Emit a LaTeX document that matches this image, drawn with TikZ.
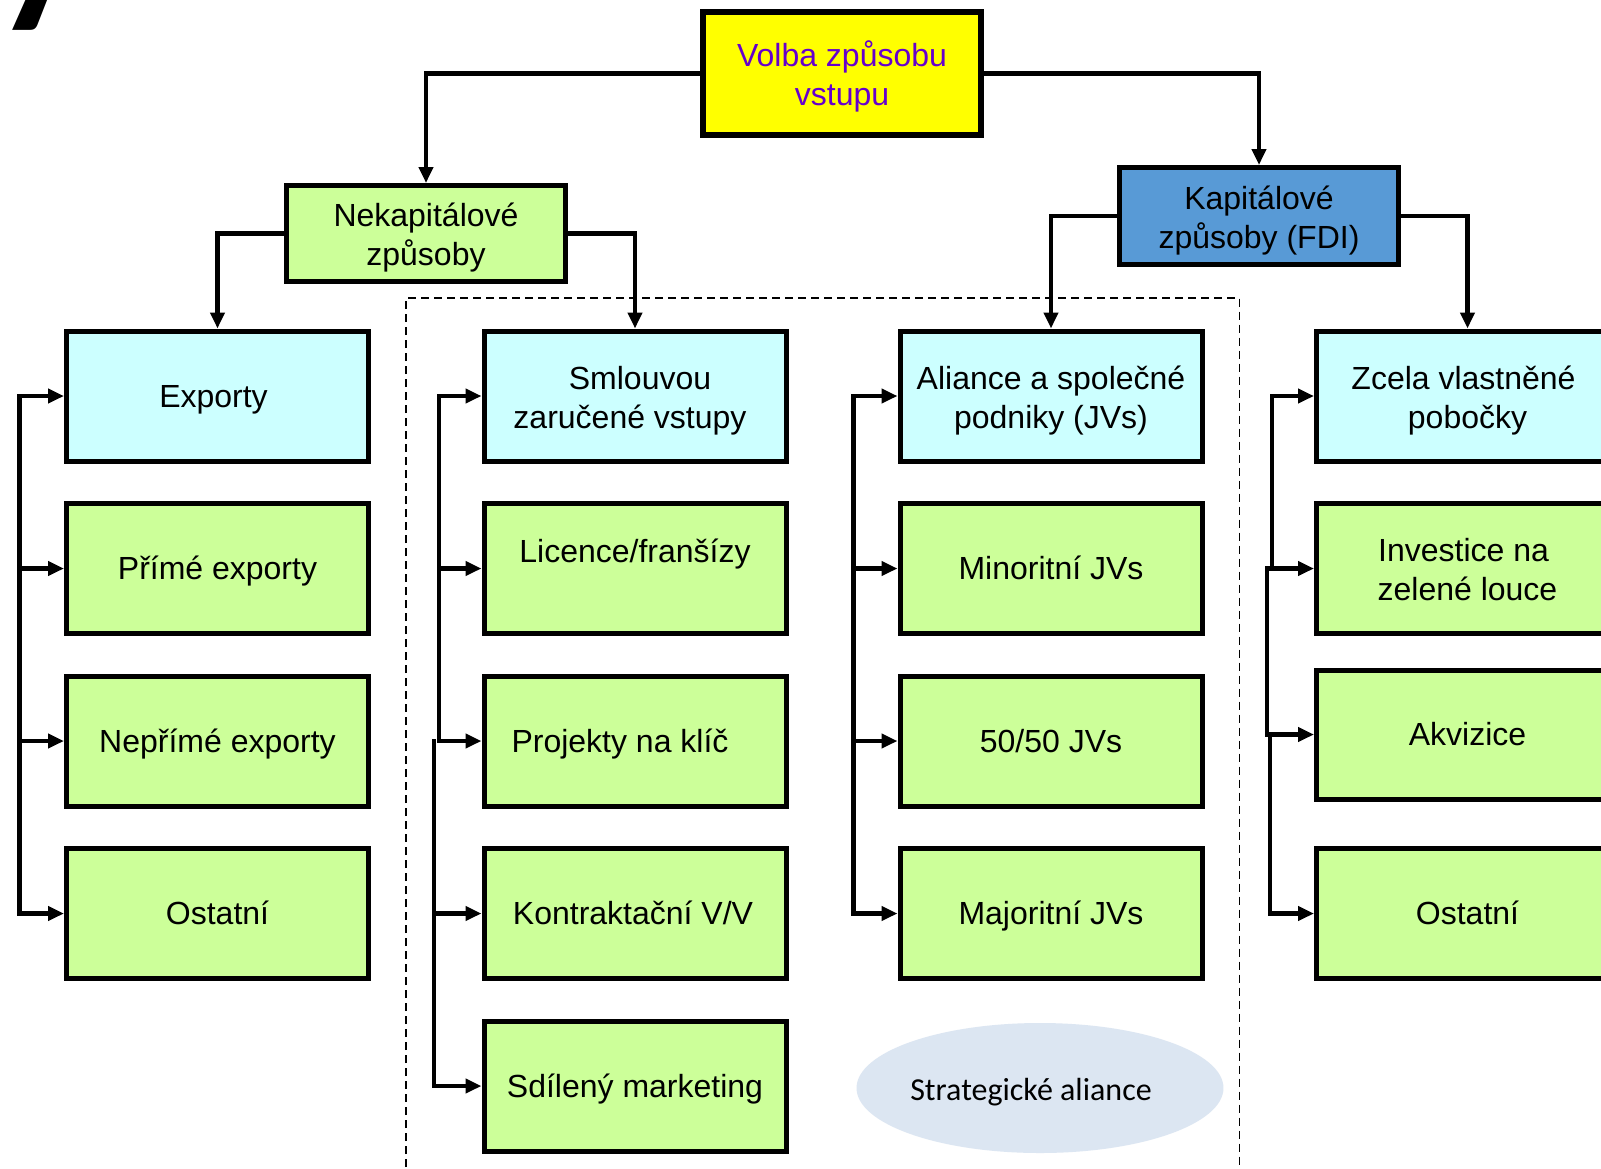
\documentclass[tikz,border=0pt]{standalone}
\usepackage{fontspec}
\usetikzlibrary{arrows.meta,shapes.geometric}
\newfontfamily\arialfont{Liberation Sans}
\newfontfamily\calfont{Carlito}
\definecolor{topyellow}{RGB}{255,255,0}
\definecolor{toptext}{RGB}{102,0,204}
\definecolor{leafgreen}{RGB}{204,255,153}
\definecolor{headcyan}{RGB}{204,255,255}
\definecolor{fdiblue}{RGB}{88,154,214}
\definecolor{ovalblue}{RGB}{220,230,242}
% line strut with the ascent and descent of the box font
\newcommand\lnstrut{\rule[-0.212em]{0pt}{1.117em}}
% two stacked lines, set slightly lower in the box by extra leading above them
\newcommand\twolines[2]{\rule[-0.212em]{0pt}{\dimexpr1.117em+3pt\relax}#1\\#2\lnstrut}
\tikzset{
  box/.style={draw=black, line width=5pt, align=center, inner sep=0pt,
    font=\arialfont\fontsize{32}{39}\selectfont},
  onel/.style={execute at begin node=\lnstrut, execute at end node=\lnstrut},
  leaf/.style={box, fill=leafgreen, minimum width=302pt, minimum height=130pt},
  head/.style={box, fill=headcyan, minimum width=302pt, minimum height=130pt},
  wire/.style={line width=4.5pt, line cap=rect},
  arr/.style={line width=4.5pt, -{Triangle[length=16pt,width=14pt]}},
  zone/.style={line width=1.5pt, dash pattern=on 8pt off 5pt}
}
\begin{document}
\begin{tikzpicture}[x=1pt,y=-1pt]
\useasboundingbox (0,0) rectangle (1601,1168);
\clip (0,0) rectangle (1601,1168);
\fill[white] (0,0) rectangle (1601,1168);

% remnant of the heading above the chart
\node[anchor=base west, inner sep=0pt, font=\calfont\bfseries\fontsize{190}{190}\selectfont] (heading) at (-6,0) {y};

% dashed frame around the contractual and alliance columns
\draw[zone] (406,1180) |- (1239.5,298) -- (1239.5,1180);

% strategic alliances oval
\node[ellipse, fill=ovalblue, minimum width=366pt, minimum height=130pt, inner sep=0pt,
  font=\calfont\fontsize{32}{38}\selectfont] (sa) at (1040,1088) {\rule[-0.25em]{0pt}{\dimexpr0.95em+10pt\relax}Strategické aliance\hspace*{18pt}};

% top levels
\node[box, fill=topyellow, text=toptext, minimum width=278pt, minimum height=123pt, line width=6pt] (top) at (842,73.5) {\twolines{Volba způsobu}{vstupu}};
\node[box, fill=leafgreen, minimum width=279pt, minimum height=96pt] (neka) at (426,233.5) {\twolines{Nekapitálové}{způsoby}};
\node[box, fill=fdiblue, minimum width=279pt, minimum height=97pt] (kapi) at (1259,216) {\twolines{Kapitálové}{způsoby (FDI)}};

% column 1: exports
\node[head, onel] (e1) at (217.5,396) {\hspace*{-8pt}Exporty};
\node[leaf, onel] (e2) at (217.5,568.5) {Přímé exporty};
\node[leaf, onel] (e3) at (217.5,741) {Nepřímé exporty};
\node[leaf, onel] (e4) at (217.5,913.5) {Ostatní};

% column 2: contractual entries
\node[head] (s1) at (635,396) {\twolines{Smlouvou\hspace*{-10pt}}{zaručené vstupy\hspace*{10pt}}};
\node[leaf, onel] (s2) at (635,568.5) {\raisebox{17pt}[\height][\depth]{Licence/franšízy}};
\node[leaf, onel] (s3) at (635,741) {Projekty na klíč\hspace*{30pt}};
\node[leaf, onel] (s4) at (635,913.5) {Kontraktační V/V\hspace*{4pt}};
\node[leaf, onel] (s5) at (635,1086) {Sdílený marketing};

% column 3: alliances and joint ventures
\node[head] (a1) at (1051,396) {\twolines{Aliance a společné}{podniky (JVs)}};
\node[leaf, onel] (a2) at (1051,568.5) {Minoritní JVs};
\node[leaf, onel] (a3) at (1051,741) {50/50 JVs};
\node[leaf, onel] (a4) at (1051,913.5) {Majoritní JVs};

% column 4: wholly owned subsidiaries
\node[head] (w1) at (1467.5,396) {\twolines{Zcela vlastněné\hspace*{8pt}}{pobočky}};
\node[leaf] (w2) at (1467.5,568.5) {\twolines{Investice na\hspace*{8pt}}{zelené louce}};
\node[leaf, onel, minimum height=129pt] (w3) at (1467.5,734.5) {Akvizice};
\node[leaf, onel] (w4) at (1467.5,913.5) {Ostatní};

% tree connectors
\draw[arr] (top.west) -| (neka.north);
\draw[arr] (top.east) -| (kapi.north);
\draw[arr] (neka.west) -| (e1.north);
\draw[arr] (neka.east) -| (s1.north);
\draw[arr] (kapi.west) -| (a1.north);
\draw[arr] (kapi.east) -| (w1.north);

% bus lines
\coordinate (b1) at (19.4,0);
\coordinate (b2a) at (439,0);
\coordinate (b2b) at (434,0);
\coordinate (b3) at (853.5,0);
\coordinate (b4a) at (1272,0);
\coordinate (b4b) at (1267,0);
\coordinate (b4c) at (1270,0);

\draw[wire] (b1 |- e1) -- (b1 |- e4);
\foreach \n in {e1,e2,e3,e4} \draw[arr] (b1 |- \n) -- (\n.west);

\draw[wire] (b2a |- s1) -- (b2a |- s3);
\draw[wire] (b2b |- s3) -- (b2b |- s5);
\foreach \n in {s1,s2,s3} \draw[arr] (b2a |- \n) -- (\n.west);
\foreach \n in {s4,s5} \draw[arr] (b2b |- \n) -- (\n.west);

\draw[wire] (b3 |- a1) -- (b3 |- a4);
\foreach \n in {a1,a2,a3,a4} \draw[arr] (b3 |- \n) -- (\n.west);

\draw[wire] (b4a |- w1) -- (b4a |- w2);
\draw[wire] (b4b |- w2) -- (b4b |- w3);
\draw[wire] (b4c |- w3) -- (b4c |- w4);
\draw[arr] (b4a |- w1) -- (w1.west);
\draw[arr] (b4b |- w2) -- (w2.west);
\draw[arr] (b4b |- w3) -- (w3.west);
\draw[arr] (b4c |- w4) -- (w4.west);
\end{tikzpicture}
\end{document}
